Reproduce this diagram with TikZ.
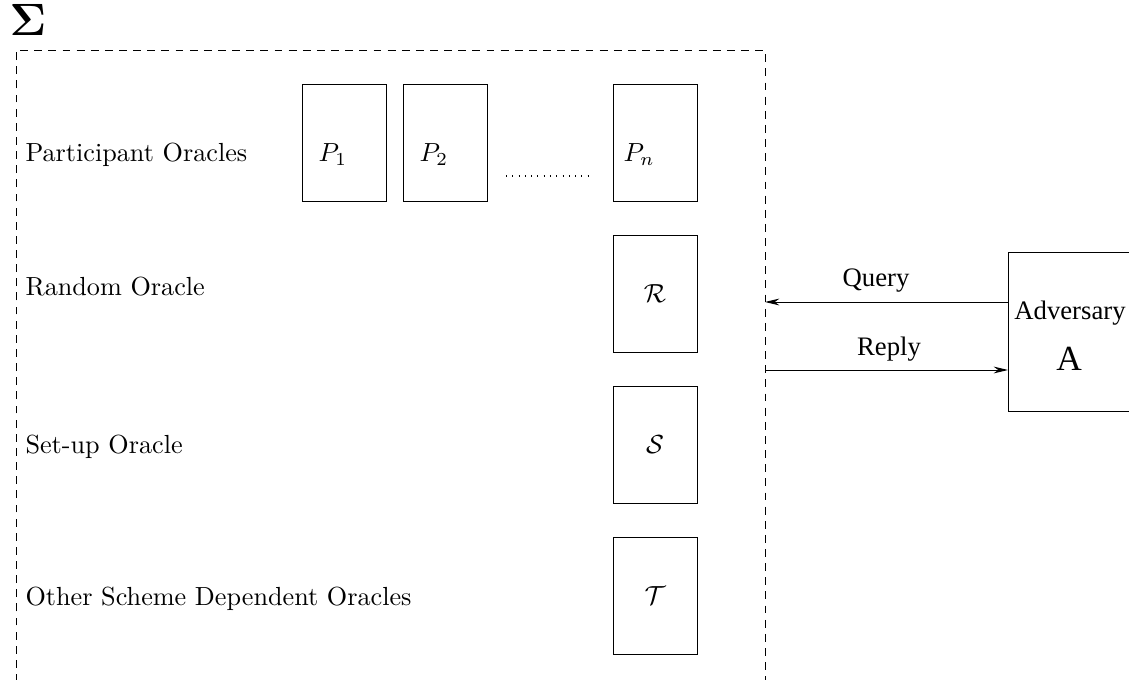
\documentclass[tikz,border=0pt]{standalone}
\usepackage{amsmath}
\usepackage{fontspec}
\newfontfamily\timesfont{Liberation Serif}
\usetikzlibrary{arrows.meta}
\begin{document}
\begin{tikzpicture}[x=0.382pt,y=-0.382pt,
  oracle/.style={draw,line width=0.35pt,minimum width=32.1pt,minimum height=44.7pt,inner sep=0pt},
  lbl/.style={anchor=west,inner sep=0pt,font=\fontsize{10}{12}\selectfont},
  frame/.style={line width=0.35pt,dash pattern=on 3pt off 2.4pt},
  conn/.style={line width=0.35pt,-{Stealth[length=5.5pt,width=2.6pt]}},
  tlabel/.style={inner sep=0pt}]
\useasboundingbox (0,0) rectangle (1129,680);
\begin{scope}
\clip (0,0) rectangle (1129,680);
% Sigma
\node[anchor=west,inner sep=0pt,font=\fontsize{17}{19}\selectfont] (sigma) at (9,20) {$\boldsymbol{\Sigma}$};
% dashed frame
\coordinate (fbl) at (16,682);
\coordinate (ftl) at (16,50);
\coordinate (ftr) at (765,50);
\coordinate (fbr) at (765,682);
\draw[frame] (fbl) -- (ftl) -- (ftr) -- (fbr);
% row labels
\node[lbl] (l1) at (25,155) {Participant Oracles};
\node[lbl] (l2) at (25,287) {Random Oracle};
\node[lbl] (l3) at (25,447) {Set-up Oracle};
\node[lbl] (l4) at (25,599) {Other Scheme Dependent Oracles};
% oracle boxes
\node[oracle] (p1) at (344,142.5) {};
\node[oracle] (p2) at (445,142.5) {};
\node[oracle] (pn) at (655,142.5) {};
\node[inner sep=0pt,anchor=west] (p1t) at (318,155) {$P_1$};
\node[inner sep=0pt,anchor=west] (p2t) at (419,155) {$P_2$};
\node[inner sep=0pt,anchor=west] (pnt) at (623,155) {$P_n$};
\coordinate (d1) at (506,176);
\coordinate (d2) at (588,176);
\draw[line width=0.4pt,dash pattern=on 0.4pt off 2.0pt] (d1) -- (d2);
\node[oracle] (r) at (655,293.5) {$\mathcal{R}$};
\node[oracle] (s) at (655,445) {$\mathcal{S}$};
\node[oracle] (t) at (655,596) {$\mathcal{T}$};
% adversary
\node[draw,line width=0.35pt,anchor=north west,minimum width=53pt,minimum height=60.7pt,inner sep=0pt] (adv) at (1008,252) {};
\node[tlabel] (advt) at (1070,313) {\timesfont\fontsize{10.2}{12}\selectfont Adversary};
\node[inner sep=0pt] (adva) at (1069,359) {\timesfont\fontsize{13.5}{16}\selectfont A};
% connectors
\coordinate (qend) at (765,302);
\coordinate (rstart) at (765,370);
\draw[conn] (adv.west |- qend) -- (qend);
\draw[conn] (rstart) -- (adv.west |- rstart);
\node[tlabel] (q) at (876,281) {\timesfont\fontsize{10.2}{12}\selectfont Query};
\node[tlabel] (rp) at (889,349) {\timesfont\fontsize{10.2}{12}\selectfont Reply};
\end{scope}
\end{tikzpicture}
\end{document}
